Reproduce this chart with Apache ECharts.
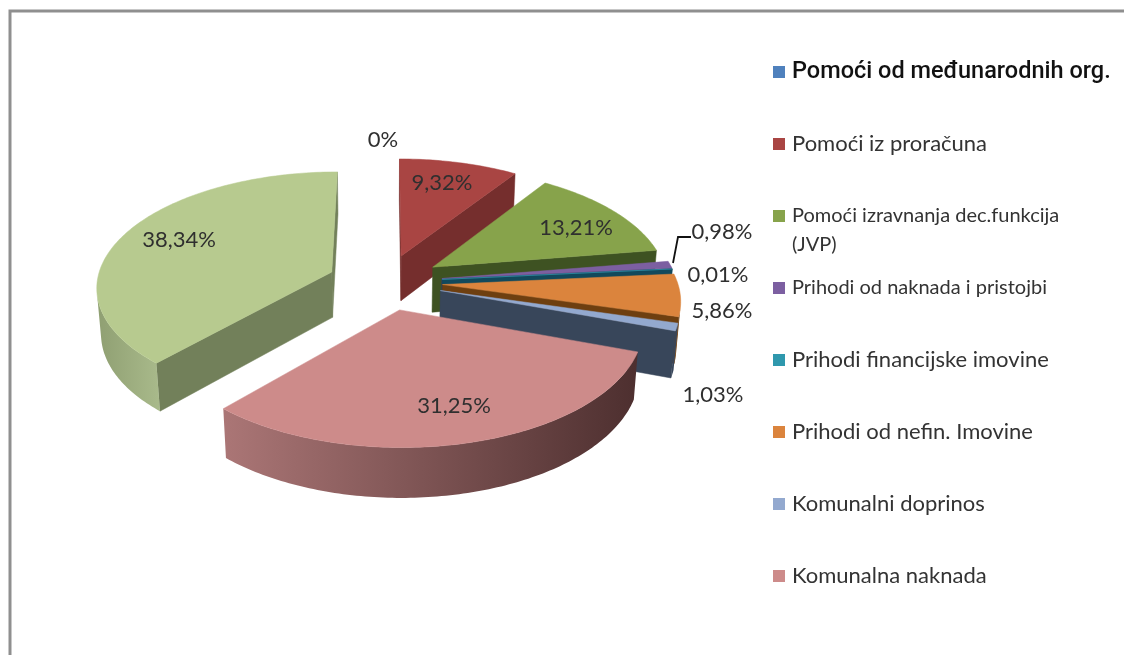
<!DOCTYPE html>
<html><head><meta charset="utf-8">
<style>html,body{margin:0;padding:0;background:#fff}#c{width:1124px;height:655px}</style>
<script src="https://cdn.jsdelivr.net/npm/echarts@6/dist/echarts.min.js"></script>
</head><body><div id="c"></div>
<script>
// ---- data
const names = ['Pomoći od međunarodnih org.','Pomoći iz proračuna','Pomoći izravnanja dec.funkcija','Prihodi od naknada i pristojbi','Prihodi financijske imovine','Prihodi od nefin. Imovine','Komunalni doprinos','Komunalna naknada','Ostalo'];
const shares = [0, 9.32, 13.21, 0.98, 0.01, 5.86, 1.03, 31.25, 38.34];
// ---- style
const topColors  = ['#4f81bd','#a94543','#87a34b','#7c5fa1','#2f98ad','#db843d','#93a9cf','#cd8b8a','#b7ca8f'];
const cutColors  = ['#2c4d75','#752e2d','#3e5222','#46346a','#12495c','#6e3f10','#38465a','#7a4c4c','#72805a'];
const wallStops  = [['#2c4d75','#2c4d75'],['#752e2d','#752e2d'],['#3e5222','#3e5222'],['#46346a','#46346a'],['#12495c','#12495c'],['#6e3f10','#6e3f10'],['#38465a','#38465a'],['#ab7676','#4d2f2f'],['#8f9f72','#a9ba8b']];
const labelPos = [[383,140],[442,183],[576,228],[722,232],[718,275],[722,311],[713,395],[454,406],[179,240]];
const legendSizes = [23.5, 22, 20, 20, 22, 22, 22, 22];
const FONT = 'Lato, "Open Sans", sans-serif';
// ---- projection of the tilted, exploded pie
const cx = 385, cy = 282, F = 235, EXPL = 0.245, H = 0.225;
const SIN_E = 0.486, COS_E = Math.sqrt(1 - SIN_E * SIN_E), D = 7.4;
function proj(X, Y, Z) {
  const yc = Y * SIN_E + Z * COS_E, zc = Y * COS_E - Z * SIN_E, s = D / (D + zc);
  return [cx + F * X * s, cy - F * yc * s];
}
const cam = [0, -D * COS_E, D * SIN_E];
function faces(n, P) { // n: ground normal, P: ground point
  return n[0] * (cam[0] - P[0]) + n[1] * (cam[1] - P[1]) > 0;
}
const total = shares.reduce((a, b) => a + b, 0);
const starts = []; shares.reduce((acc, v, i) => (starts[i] = acc, acc + v), 0);

function slice(i, value) {
  const children = [];
  if (value > 0) {
    const a0 = starts[i] / total * 2 * Math.PI, a1 = (starts[i] + value) / total * 2 * Math.PI, am = (a0 + a1) / 2;
    const ax = EXPL * Math.sin(am), ay = EXPL * Math.cos(am);
    const rim = t => [ax + Math.sin(t), ay + Math.cos(t)];
    const n = Math.max(2, Math.ceil((a1 - a0) * 60));
    const ts = []; for (let k = 0; k <= n; k++) ts.push(a0 + (a1 - a0) * k / n);
    const poly = (pts, fill) => children.push({ type: 'polygon', silent: true, shape: { points: pts }, style: { fill, stroke: fill, lineWidth: 0.5 } });
    // radial cut faces
    const p0 = rim(a0), p1 = rim(a1);
    if (faces([-Math.cos(a0), Math.sin(a0)], [ax, ay]))
      poly([proj(ax, ay, 0), proj(p0[0], p0[1], 0), proj(p0[0], p0[1], -H), proj(ax, ay, -H)], cutColors[i]);
    if (faces([Math.cos(a1), -Math.sin(a1)], [ax, ay]))
      poly([proj(ax, ay, 0), proj(p1[0], p1[1], 0), proj(p1[0], p1[1], -H), proj(ax, ay, -H)], cutColors[i]);
    // curved outer wall: the part that faces the viewer
    const vis = ts.filter(t => faces([Math.sin(t), Math.cos(t)], rim(t)));
    if (vis.length > 1) {
      const upper = vis.map(t => { const r = rim(t); return proj(r[0], r[1], 0); });
      const lower = vis.map(t => { const r = rim(t); return proj(r[0], r[1], -H); }).reverse();
      const fill = new echarts.graphic.LinearGradient(0, 0, 1, 0, [{ offset: 0, color: wallStops[i][0] }, { offset: 1, color: wallStops[i][1] }]);
      children.push({ type: 'polygon', silent: true, shape: { points: upper.concat(lower) }, style: { fill } });
    }
    // top face
    poly([proj(ax, ay, 0)].concat(ts.map(t => { const r = rim(t); return proj(r[0], r[1], 0); })), topColors[i]);
  }
  return { type: 'group', children };
}
function labelText(v) { return v === 0 ? '0%' : v.toFixed(2).replace('.', ',') + '%'; }

const series = names.map((name, i) => ({
  type: 'custom', name, coordinateSystem: 'none', silent: true, animation: false,
  itemStyle: { color: topColors[i] },
  data: [[shares[i]]],
  renderItem: (params, api) => slice(i, api.value(0))
}));
// value labels sit above every slice
series.push({
  type: 'custom', name: 'labels', coordinateSystem: 'none', silent: true, animation: false,
  data: shares.map(v => [v]),
  renderItem: (params, api) => ({
    type: 'text', silent: true,
    style: { text: labelText(api.value(0)), x: labelPos[params.dataIndex][0], y: labelPos[params.dataIndex][1], align: 'center', verticalAlign: 'middle', fill: '#2f2f2f', font: '22px ' + FONT }
  })
});

const chart = echarts.init(document.getElementById('c'), null, { renderer: 'canvas' });
chart.setOption({
  animation: false, backgroundColor: '#fff',
  legend: {
    orient: 'vertical', left: 768, top: 55, itemWidth: 12, itemHeight: 12, itemGap: 48, icon: 'rect', selectedMode: false,
    textStyle: { fontFamily: FONT, fontSize: 20, color: '#333', lineHeight: 24, padding: [0, 0, 0, 2] },
    data: names.slice(0, 8).map((name, i) => i === 0
      ? { name, textStyle: { color: '#111', fontSize: legendSizes[i], fontWeight: 500, fontFamily: 'Roboto, ' + FONT } }
      : { name, textStyle: { fontSize: legendSizes[i] } })
  },
  graphic: [
    { type: 'rect', z: -1, silent: true, shape: { x: 10, y: 11, width: 1300, height: 900 }, style: { fill: '#fff', stroke: '#8f8f8f', lineWidth: 3 } },
    { type: 'text', silent: true, style: { text: '(JVP)', x: 792, y: 245, verticalAlign: 'middle', font: '20px ' + FONT, fill: '#333' } },
    { type: 'polyline', silent: true, z: 10, shape: { points: [[673, 263], [678, 237], [691, 237]] }, style: { stroke: '#111', lineWidth: 1.8, fill: 'none' } }
  ],
  series
});
</script></body></html>
